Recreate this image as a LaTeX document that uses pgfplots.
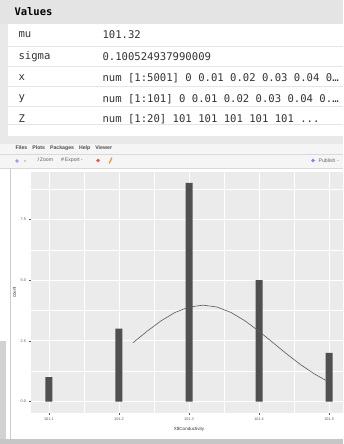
\documentclass[border=0pt]{standalone}
\usepackage{pgfplots}
\pgfplotsset{compat=1.18}
\usepackage{fontspec}
\setmainfont{Liberation Sans}
\newfontfamily\mono{DejaVu Sans Mono}
\definecolor{panel}{HTML}{EBEBEB}
\definecolor{hdr}{HTML}{E4E4E4}
\definecolor{bar}{HTML}{505050}
\definecolor{frame}{HTML}{C8C8C8}
\begin{document}
\begin{tikzpicture}
\clip (0pt,0pt) rectangle (343pt,444pt);
\begin{scope}[x=1pt,y=1pt]
\fill[white] (0,0) rectangle (343,444);
% ---- Values pane ----
\fill[hdr] (0,444) rectangle (343,420);
\fill[frame!40] (0,420) rectangle (8,308);
\fill[frame!40] (0,308) rectangle (343,300);
\foreach \yy in {398,378,358,338,320}{\draw[gray!20,line width=0.4pt] (8,\yy) -- (343,\yy);}
\node[anchor=west,font=\mono\bfseries\fontsize{10.5}{12}\selectfont] at (11,432) {Values};
\begin{scope}[every node/.style={anchor=west,font=\mono\fontsize{10.6}{12}\selectfont,text=black!80}]
\node at (15,409) {mu};
\node at (99,409) {101.32};
\node at (15,387) {sigma};
\node at (99,387) {0.100524937990009};
\node at (15,366) {x};
\node at (99,366) {num [1:5001] 0 0.01 0.02 0.03 0.04 0…};
\node at (15,345) {y};
\node at (99,345) {num [1:101] 0 0.01 0.02 0.03 0.04 0.…};
\node at (15,325) {Z};
\node at (99,325) {num [1:20] 101 101 101 101 101 ...};
\end{scope}
% ---- Plots toolbar ----
\fill[gray!8] (0,300) rectangle (343,276);
\draw[gray!30,line width=0.4pt] (0,290) -- (343,290);
\draw[gray!30,line width=0.4pt] (0,276) -- (343,276);
\node[anchor=west,font=\bfseries\fontsize{5.2}{6}\selectfont,text=black!70] at (12,296) {Files\hspace{5pt}Plots\hspace{5pt}Packages\hspace{5pt}Help\hspace{5pt}Viewer};
\fill[blue!40] (17,283) circle (1.8);
\fill[gray!50] (25,283) circle (1.2);
\node[anchor=west,font=\fontsize{5.2}{6}\selectfont,text=black!60] at (34,283.5) {\textcolor{green!50!black}{/}\,Zoom\hspace{8pt}\textcolor{green!50!black}{\#}\,Export\,-};
\fill[red!70] (98,283.5) circle (1.8);
\draw[orange,line width=1pt] (109,280.5) -- (112,286.5);
\fill[blue!50] (313,283.5) circle (1.8);
\node[anchor=west,font=\fontsize{5.2}{6}\selectfont,text=black!60] at (315,283.5) {Publish -};
% ---- left border / scrollbar ----
\draw[gray!40,line width=0.6pt] (10,276) -- (10,5);
\fill[gray!35] (0,103) rectangle (6,5);
\fill[gray!45] (0,0) rectangle (343,5);
\end{scope}
% ---- plot ----
\begin{axis}[
  scale only axis, width=316pt, height=241.5pt,
  at={(31pt,31pt)}, anchor=south west,
  xmin=101.0745, xmax=101.5255, ymin=-0.4725, ymax=9.4725,
  axis background/.style={fill=panel},
  axis line style={draw=none},
  xtick pos=bottom, ytick pos=left,
  grid=both,
  major grid style={white, line width=0.7pt},
  minor grid style={white, line width=0.35pt},
  xtick={101.1,101.2,101.3,101.4,101.5},
  xticklabels={101.1,101.2,101.3,101.4,101.5},
  minor xtick={101.15,101.25,101.35,101.45},
  ytick={0,2.5,5,7.5},
  yticklabels={0.0,2.5,5.0,7.5},
  minor ytick={1.25,3.75,6.25,8.75},
  tick align=outside, major tick length=1.5pt, minor tick length=0pt,
  tick style={gray!70!black, line width=0.3pt},
  ticklabel style={font=\fontsize{3.8}{4}\selectfont, text=gray!70!black},
  xlabel={X\$Conductivity}, ylabel={count},
  label style={font=\fontsize{4.5}{5}\selectfont, text=black!80},
  ylabel style={yshift=-2pt},
]
\addplot[ybar, bar width=7pt, fill=bar, draw=none] coordinates {
(101.1,1) (101.2,3) (101.3,9) (101.4,5) (101.5,2)};
\addplot[sharp plot, no marks, draw=black!65, line width=0.6pt] coordinates {
(101.22,2.420) (101.24,2.891) (101.26,3.321) (101.28,3.667) (101.30,3.891)
(101.32,3.969) (101.34,3.891) (101.36,3.667) (101.38,3.321) (101.40,2.891)
(101.42,2.420) (101.44,1.946) (101.46,1.504) (101.48,1.118) (101.50,0.798)};
\end{axis}
\end{tikzpicture}
\end{document}
